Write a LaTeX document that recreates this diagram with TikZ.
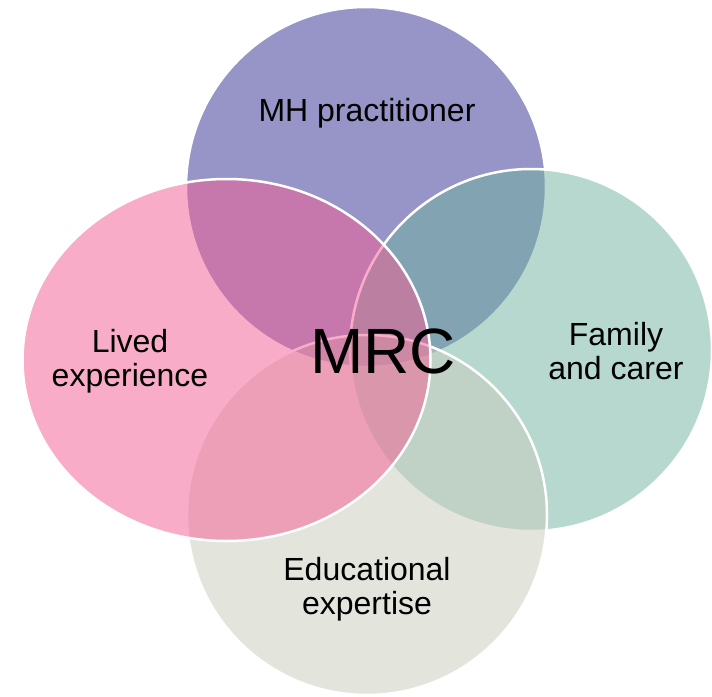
\documentclass[tikz,border=0pt]{standalone}
\usepackage{fontspec}
\setmainfont{Liberation Sans}
\definecolor{cPurple}{RGB}{49,45,145}
\definecolor{cTeal}{RGB}{111,179,159}
\definecolor{cGrey}{RGB}{201,205,189}
\definecolor{cPink}{RGB}{245,91,147}
\tikzset{
  venn/.style={fill opacity=0.5, draw=white, line width=2.5pt},
  lbl/.style={align=center, text=black, font=\fontsize{32}{34}\selectfont, inner sep=0pt},
  big/.style={text=black, font=\fontsize{64}{64}\selectfont, inner sep=0pt}
}
\begin{document}
\begin{tikzpicture}[x=1pt,y=-1pt]
  \useasboundingbox (0,0) rectangle (712,696);
  \fill[white] (0,0) rectangle (712,696);
  \path[venn, fill=cPurple] (366,187) circle [radius=180];
  \path[venn, fill=cTeal] (531,350) circle [radius=181];
  \path[venn, fill=cGrey] (367,515) circle [radius=180];
  \path[venn, fill=cPink] (226.5,360) ellipse [x radius=204, y radius=181];
  \node[lbl] (mh) at (367,113) {MH practitioner};
  \node[lbl] (fam) at (616,351) {Family\\and carer};
  \node[lbl] (edu) at (367,589) {Educational\\expertise};
  \node[lbl] (lived) at (130,361) {Lived\\experience};
  \node[big] (mrc) at (383,351) {MRC};
\end{tikzpicture}
\end{document}
